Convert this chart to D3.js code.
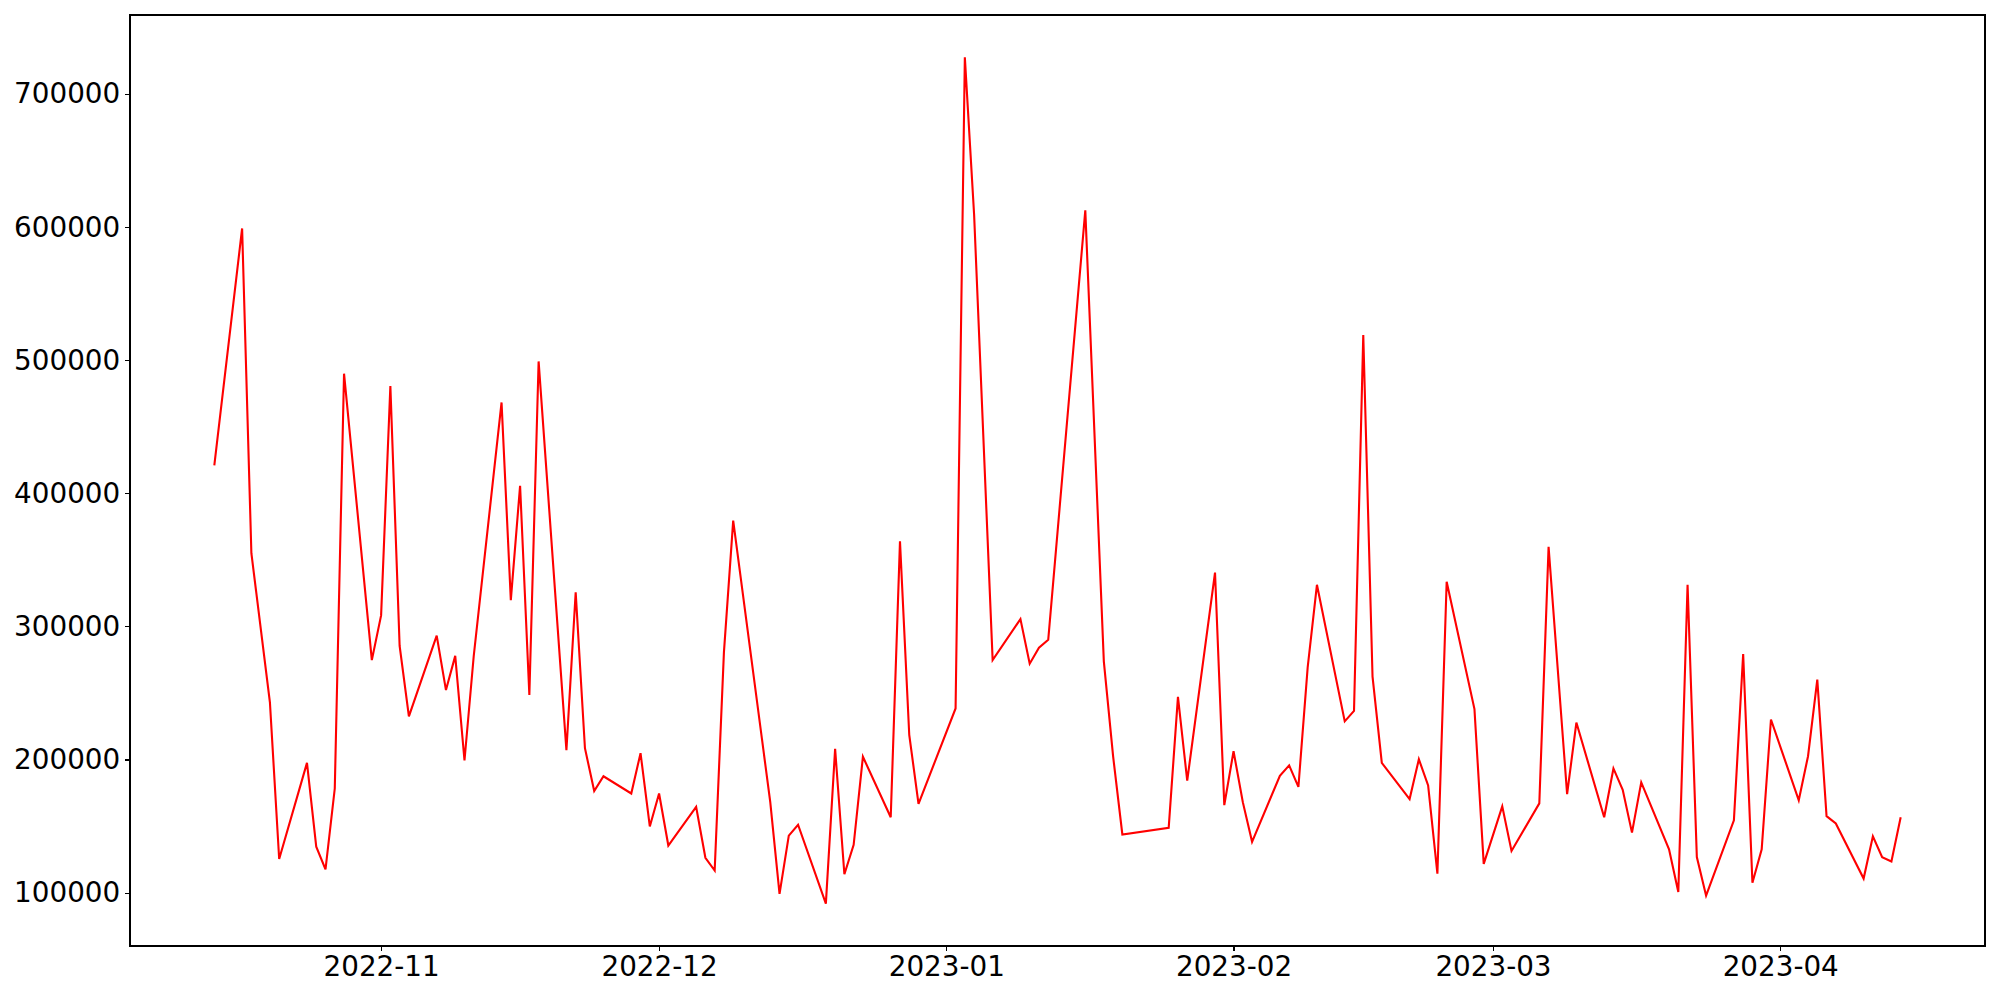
<!DOCTYPE html>
<html>
<head>
<meta charset="utf-8">
<script src="https://cdn.jsdelivr.net/npm/d3@7/dist/d3.min.js"></script>
<style>
	body { margin: 0; background: #fff; }
	svg text { font-family: "DejaVu Sans", sans-serif; }
</style>
</head>
<body>
<div id="chart"></div>
<script>

// daily values (gaps are weekends / missing days)
var dates = [
	'2022-10-14','2022-10-17','2022-10-18','2022-10-20','2022-10-21','2022-10-24','2022-10-25','2022-10-26','2022-10-27','2022-10-28',
	'2022-10-31','2022-11-01','2022-11-02','2022-11-03','2022-11-04','2022-11-07','2022-11-08','2022-11-09','2022-11-10','2022-11-11',
	'2022-11-14','2022-11-15','2022-11-16','2022-11-17','2022-11-18','2022-11-21','2022-11-22','2022-11-23','2022-11-24','2022-11-25',
	'2022-11-28','2022-11-29','2022-11-30','2022-12-01','2022-12-02','2022-12-05','2022-12-06','2022-12-07','2022-12-08','2022-12-09',
	'2022-12-13','2022-12-14','2022-12-15','2022-12-16','2022-12-19','2022-12-20','2022-12-21','2022-12-22','2022-12-23',
	'2022-12-26','2022-12-27','2022-12-28','2022-12-29','2023-01-02','2023-01-03','2023-01-04','2023-01-06',
	'2023-01-09','2023-01-10','2023-01-11','2023-01-12','2023-01-16','2023-01-18','2023-01-19','2023-01-20',
	'2023-01-25','2023-01-26','2023-01-27','2023-01-30','2023-01-31','2023-02-01','2023-02-02','2023-02-03',
	'2023-02-06','2023-02-07','2023-02-08','2023-02-09','2023-02-10','2023-02-13','2023-02-14','2023-02-15','2023-02-16','2023-02-17',
	'2023-02-20','2023-02-21','2023-02-22','2023-02-23','2023-02-24','2023-02-27','2023-02-28','2023-03-02','2023-03-03',
	'2023-03-06','2023-03-07','2023-03-09','2023-03-10','2023-03-13','2023-03-14','2023-03-15','2023-03-16','2023-03-17',
	'2023-03-20','2023-03-21','2023-03-22','2023-03-23','2023-03-24','2023-03-27','2023-03-28','2023-03-29','2023-03-30','2023-03-31',
	'2023-04-03','2023-04-04','2023-04-05','2023-04-06','2023-04-07','2023-04-10','2023-04-11','2023-04-12','2023-04-13','2023-04-14'
];

var values = [
	421000, 599000, 355000, 243000, 125300, 197500, 134500, 117500, 178200, 489900,
	274700, 308300, 480700, 285300, 232400, 293100, 252200, 277900, 199300, 278000,
	468300, 319800, 405700, 248500, 499100, 207100, 325700, 208500, 176300, 187400,
	174500, 204800, 149700, 174500, 135400, 164400, 126200, 116600, 280700, 379500,
	168000, 99100, 142800, 151000, 91700, 208000, 113800, 135900, 202100,
	156600, 363900, 218600, 166700, 238400, 727600, 609400, 274700,
	305500, 272000, 284000, 290000, 612600, 273800, 202500, 143700,
	148700, 247100, 184100, 340500, 165700, 206200, 168000, 138200,
	187800, 195600, 179500, 269200, 331300, 228700, 236600, 518900, 262300, 197500,
	170300, 200200, 180500, 114300, 333600, 237900, 121600, 164800, 131300,
	167100, 359800, 174000, 227800, 156600, 193300, 177200, 145100, 182800,
	132600, 100500, 331300, 126700, 97700, 154300, 279300, 107400, 132600, 230100,
	169400, 202500, 260000, 157500, 152000, 110600, 142300, 126700, 123400, 156600
];

var yTicks = [100000, 200000, 300000, 400000, 500000, 600000, 700000];

var W = 2000, H = 1000;
var margin = {top: 15, right: 15, bottom: 54, left: 130};
var w = W - margin.left - margin.right;
var h = H - margin.top - margin.bottom;
var fontSize = 27.8;
var tickLen = 4.9;

var parse = d3.utcParse('%Y-%m-%d');
var data = dates.map(function(d, i){ return {date: parse(d), value: values[i]}; });

// matplotlib style 5% padding on both axes
var xExt = d3.extent(data, function(d){ return d.date; });
var xPad = (xExt[1] - xExt[0]) * 0.05;
var yExt = d3.extent(values);
var yPad = (yExt[1] - yExt[0]) * 0.05;

var x = d3.scaleUtc()
	.domain([new Date(+xExt[0] - xPad), new Date(+xExt[1] + xPad)])
	.range([0, w]);

var y = d3.scaleLinear()
	.domain([yExt[0] - yPad, yExt[1] + yPad])
	.range([h, 0]);

var svg = d3.select('#chart').append('svg')
	.attr('width', W)
	.attr('height', H);

var g = svg.append('g')
	.attr('transform', 'translate(' + margin.left + ',' + margin.top + ')');

var xAxis = d3.axisBottom(x)
	.ticks(d3.utcMonth.every(1))
	.tickFormat(d3.utcFormat('%Y-%m'))
	.tickSize(tickLen)
	.tickPadding(4.9);

var yAxis = d3.axisLeft(y)
	.tickValues(yTicks)
	.tickFormat(d3.format('d'))
	.tickSize(tickLen)
	.tickPadding(4.9);

var gx = g.append('g')
	.attr('transform', 'translate(0,' + h + ')')
	.call(xAxis);

var gy = g.append('g')
	.call(yAxis);

[gx, gy].forEach(function(ax){
	ax.select('.domain').remove();
	ax.selectAll('.tick line')
		.attr('stroke', '#000')
		.attr('stroke-width', 1.1)
		.attr('shape-rendering', 'crispEdges');
	ax.selectAll('.tick text')
		.attr('fill', '#000')
		.style('font-size', fontSize + 'px');
});

var line = d3.line()
	.x(function(d){ return x(d.date); })
	.y(function(d){ return y(d.value); });

g.append('path')
	.datum(data)
	.attr('fill', 'none')
	.attr('stroke', '#ff0000')
	.attr('stroke-width', 2.1)
	.attr('stroke-linejoin', 'miter')
	.attr('d', line);

// frame
g.append('rect')
	.attr('width', w)
	.attr('height', h)
	.attr('fill', 'none')
	.attr('stroke', '#000')
	.attr('stroke-width', 1.1)
	.attr('shape-rendering', 'crispEdges');

</script>
</body>
</html>
